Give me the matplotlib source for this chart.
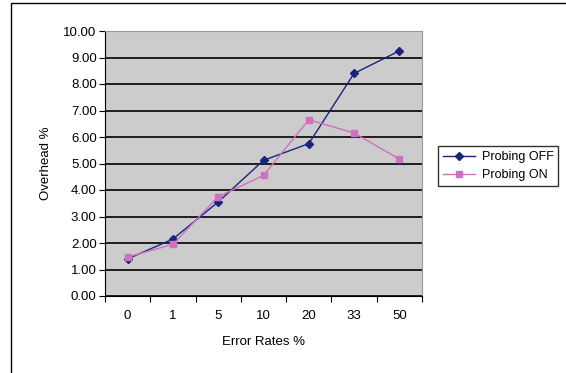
import numpy as np
import matplotlib
matplotlib.use("Agg")
from matplotlib import pyplot as plt
from matplotlib.patches import Rectangle

plt.rcParams['font.family'] = ['Liberation Sans', 'DejaVu Sans']

error_rates = ["0", "1", "5", "10", "20", "33", "50"]
probing_off = [1.40, 2.15, 3.55, 5.12, 5.75, 8.40, 9.25]
probing_on = [1.47, 1.95, 3.75, 4.55, 6.65, 6.15, 5.17]

fig = plt.figure(figsize=(5.66, 3.73), dpi=100)
W, H = 566, 373
ax = fig.add_axes([105 / W, 1 - 296 / H, (422 - 105) / W, (296 - 31) / H])

# outer chart frame
fig.patches.append(Rectangle((11 / W, -0.1), 1.2, 1 - 3 / H + 0.1,
                             transform=fig.transFigure, fill=False,
                             edgecolor="black", linewidth=1.0))

x = np.arange(len(error_rates))
ax.set_facecolor("#cccccc")
ax.plot(x, probing_off, color="#1a237e", marker="D", markersize=4.5,
        linewidth=1.0, label="Probing OFF")
ax.plot(x, probing_on, color="#d070c0", marker="s", markersize=5,
        linewidth=1.0, label="Probing ON")

ax.set_xlim(-0.5, len(x) - 0.5)
ax.set_ylim(0, 10)
ax.set_yticks(np.arange(0, 11, 1))
ax.set_yticklabels([f"{v:.2f}" for v in np.arange(0, 11, 1)])
ax.yaxis.grid(True, color="black", linewidth=1.2)
ax.set_axisbelow(True)

ax.set_xticks(np.arange(-0.5, len(x)), minor=False)
ax.set_xticklabels([])
ax.set_xticks(x, minor=True)
ax.set_xticklabels(error_rates, minor=True)
ax.tick_params(axis="x", which="minor", length=0, pad=10, labelsize=9.5)
ax.tick_params(axis="x", which="major", length=4, direction="out")
ax.tick_params(axis="y", length=4, direction="out", labelsize=9.5, pad=2)

for side in ("top", "right"):
    ax.spines[side].set_color("#999999")
for side in ("left", "bottom"):
    ax.spines[side].set_color("black")

ax.set_xlabel("Error Rates %", fontsize=9.5, labelpad=10)
ax.set_ylabel("Overhead %", fontsize=9.5, labelpad=8)

leg = ax.legend(loc="center left", bbox_to_anchor=(1.03, 0.49), fontsize=9,
                frameon=True, fancybox=False, edgecolor="black",
                handlelength=2.6, borderpad=0.4, labelspacing=0.5,
                handletextpad=0.5)
leg.get_frame().set_linewidth(1.0)

fig.savefig("out.png", dpi=100)
